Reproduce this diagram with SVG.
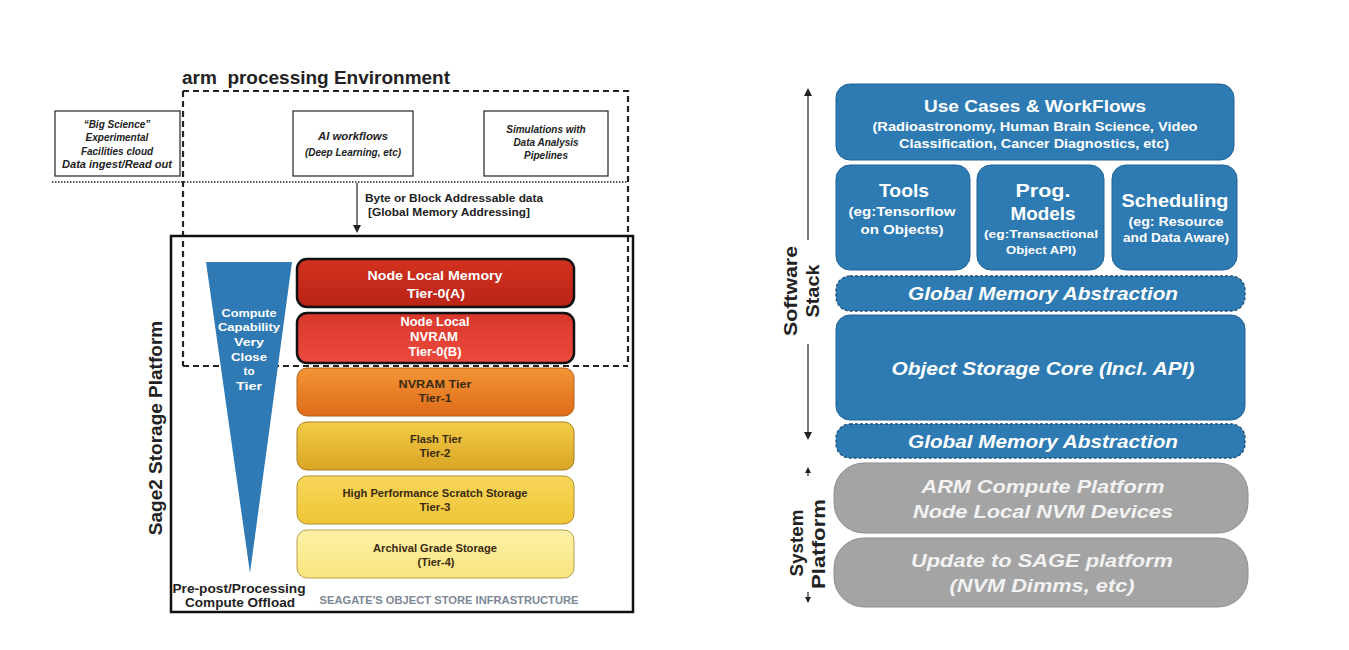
<svg xmlns="http://www.w3.org/2000/svg" width="1349" height="650" viewBox="0 0 1349 650">
<defs>
<style>
text{font-family:"Liberation Sans",Arial,sans-serif;font-weight:bold}
.sm{font-size:10px;fill:#222;font-style:italic;text-anchor:middle}
.lbl{font-size:11px;fill:#222}
.tw{fill:#fff;text-anchor:middle}
.td{fill:#3a2a12;text-anchor:middle;font-size:10.5px}
.blue{fill:#2e7bb3;stroke:#1f6296;stroke-width:1}
.dash{fill:#2e7bb3;stroke:#1d4f78;stroke-width:1.3;stroke-dasharray:3 2}
.gray{fill:#a4a4a4;stroke:#8f8f8f;stroke-width:1}
.gt{fill:#f2f2f2;text-anchor:middle;font-style:italic;font-size:19px}
.wi{fill:#fff;text-anchor:middle;font-style:italic}
</style>
<linearGradient id="g0a" x1="0" y1="0" x2="0" y2="1"><stop offset="0" stop-color="#d3321f"/><stop offset="1" stop-color="#b92316"/></linearGradient>
<linearGradient id="g0b" x1="0" y1="0" x2="0" y2="1"><stop offset="0" stop-color="#d8372b"/><stop offset="1" stop-color="#ec4a3c"/></linearGradient>
<linearGradient id="g1" x1="0" y1="0" x2="0" y2="1"><stop offset="0" stop-color="#f19536"/><stop offset="1" stop-color="#e06c1a"/></linearGradient>
<linearGradient id="g2" x1="0" y1="0" x2="0" y2="1"><stop offset="0" stop-color="#f3cd48"/><stop offset="1" stop-color="#d9a424"/></linearGradient>
<linearGradient id="g3" x1="0" y1="0" x2="0" y2="1"><stop offset="0" stop-color="#f7d75a"/><stop offset="1" stop-color="#efc435"/></linearGradient>
<linearGradient id="g4" x1="0" y1="0" x2="0" y2="1"><stop offset="0" stop-color="#fdf1a8"/><stop offset="1" stop-color="#f8e47c"/></linearGradient>
<marker id="ah" markerWidth="8" markerHeight="8" refX="4" refY="4" orient="auto" markerUnits="userSpaceOnUse"><path d="M0,0 L8,4 L0,8 z" fill="#222"/></marker>
<marker id="ahs" markerWidth="6" markerHeight="6" refX="3" refY="3" orient="auto" markerUnits="userSpaceOnUse"><path d="M0,0 L6,3 L0,6 z" fill="#222"/></marker>
</defs>
<rect width="1349" height="650" fill="#fff"/>

<!-- LEFT DIAGRAM -->
<g id="arm-env">
<text x="182" y="84" font-size="18" fill="#222" textLength="268" lengthAdjust="spacingAndGlyphs" style="white-space:pre">arm  processing Environment</text>
<path d="M183,91 H628 V366 M183,91 V366" fill="none" stroke="#222" stroke-width="2.2" stroke-dasharray="6 4"/>
<line x1="183" y1="366" x2="628" y2="366" stroke="#222" stroke-width="2.2" stroke-dasharray="6 4"/>
<line x1="52" y1="182" x2="628" y2="182" stroke="#222" stroke-width="1.5" stroke-dasharray="1.5 1.5"/>
</g>
<g id="big-science">
<rect x="55" y="111" width="125" height="65" fill="#fff" stroke="#333" stroke-width="1.3"/>
<text class="sm" x="117" y="128">“Big Science”</text>
<text class="sm" x="117" y="141">Experimental</text>
<text class="sm" x="117" y="155">Facilities cloud</text>
<text class="sm" x="117" y="168" textLength="110" lengthAdjust="spacingAndGlyphs">Data ingest/Read out</text>
</g>
<g id="ai-workflows">
<rect x="293" y="111" width="120" height="65" fill="#fff" stroke="#333" stroke-width="1.3"/>
<text class="sm" x="353" y="140" textLength="70" lengthAdjust="spacingAndGlyphs">AI workflows</text>
<text class="sm" x="353" y="156">(Deep Learning, etc)</text>
</g>
<g id="simulations">
<rect x="484" y="111" width="124" height="65" fill="#fff" stroke="#333" stroke-width="1.3"/>
<text class="sm" x="546" y="133">Simulations with</text>
<text class="sm" x="546" y="146">Data Analysis</text>
<text class="sm" x="546" y="159">Pipelines</text>
</g>
<g id="connectors-left">
<line x1="357" y1="183" x2="357" y2="229" stroke="#222" stroke-width="1.2" marker-end="url(#ah)"/>
<text class="lbl" x="365" y="202" textLength="178" lengthAdjust="spacingAndGlyphs">Byte or Block Addressable data</text>
<text class="lbl" x="368" y="216" textLength="162" lengthAdjust="spacingAndGlyphs">[Global Memory Addressing]</text>
</g>
<g id="sage2-platform">
<rect x="171" y="236" width="462" height="376" fill="none" stroke="#111" stroke-width="2.5"/>
<text transform="translate(162,428) rotate(-90)" text-anchor="middle" font-size="19" fill="#222">Sage2 Storage Platform</text>
<text x="239" y="593" text-anchor="middle" font-size="12" fill="#222" textLength="133" lengthAdjust="spacingAndGlyphs">Pre-post/Processing</text>
<text x="240" y="607" text-anchor="middle" font-size="12" fill="#222" textLength="110" lengthAdjust="spacingAndGlyphs">Compute Offload</text>
<text x="449" y="604" text-anchor="middle" font-size="10.5" fill="#7d8794" textLength="259" lengthAdjust="spacingAndGlyphs">SEAGATE'S OBJECT STORE INFRASTRUCTURE</text>
</g>
<g id="compute-triangle">
<polygon points="206,262 292,262 250,573" fill="#2f7ab4"/>
<text class="tw" font-size="11.5" x="249" y="317" textLength="55" lengthAdjust="spacingAndGlyphs">Compute</text>
<text class="tw" font-size="11.5" x="249" y="331" textLength="62" lengthAdjust="spacingAndGlyphs">Capability</text>
<text class="tw" font-size="11.5" x="249" y="346" textLength="30" lengthAdjust="spacingAndGlyphs">Very</text>
<text class="tw" font-size="11.5" x="249" y="361" textLength="36" lengthAdjust="spacingAndGlyphs">Close</text>
<text class="tw" font-size="11.5" x="249" y="375">to</text>
<text class="tw" font-size="11.5" x="249" y="390" textLength="26" lengthAdjust="spacingAndGlyphs">Tier</text>
</g>
<g id="tier-0a">
<rect x="297" y="259" width="277" height="48" rx="10" fill="url(#g0a)" stroke="#111" stroke-width="2.5"/>
<text class="tw" font-size="13" x="435" y="280" textLength="135" lengthAdjust="spacingAndGlyphs">Node Local Memory</text>
<text class="tw" font-size="13" x="436" y="298" textLength="58" lengthAdjust="spacingAndGlyphs">Tier-0(A)</text>
</g>
<g id="tier-0b">
<rect x="297" y="313" width="277" height="50" rx="10" fill="url(#g0b)" stroke="#111" stroke-width="2.5"/>
<text class="tw" font-size="12" x="435" y="326" textLength="69" lengthAdjust="spacingAndGlyphs">Node Local</text>
<text class="tw" font-size="12" x="434" y="341" textLength="48" lengthAdjust="spacingAndGlyphs">NVRAM</text>
<text class="tw" font-size="12" x="435" y="356" textLength="53" lengthAdjust="spacingAndGlyphs">Tier-0(B)</text>
</g>
<g id="tier-1">
<rect x="297" y="368" width="277" height="48" rx="10" fill="url(#g1)" stroke="#b0601a" stroke-width="1"/>
<text class="td" x="435" y="388" textLength="73" lengthAdjust="spacingAndGlyphs">NVRAM Tier</text>
<text class="td" x="435" y="402" textLength="33" lengthAdjust="spacingAndGlyphs">Tier-1</text>
</g>
<g id="tier-2">
<rect x="297" y="422" width="277" height="48" rx="10" fill="url(#g2)" stroke="#a8801e" stroke-width="1"/>
<text class="td" x="436" y="443" textLength="52" lengthAdjust="spacingAndGlyphs">Flash Tier</text>
<text class="td" x="435" y="457" textLength="31" lengthAdjust="spacingAndGlyphs">Tier-2</text>
</g>
<g id="tier-3">
<rect x="297" y="476" width="277" height="48" rx="10" fill="url(#g3)" stroke="#b09030" stroke-width="1"/>
<text class="td" x="435" y="497" textLength="185" lengthAdjust="spacingAndGlyphs">High Performance Scratch Storage</text>
<text class="td" x="435" y="511" textLength="31" lengthAdjust="spacingAndGlyphs">Tier-3</text>
</g>
<g id="tier-4">
<rect x="297" y="530" width="277" height="48" rx="10" fill="url(#g4)" stroke="#b8a050" stroke-width="1"/>
<text class="td" x="435" y="552" textLength="124" lengthAdjust="spacingAndGlyphs">Archival Grade Storage</text>
<text class="td" x="436" y="566" textLength="37" lengthAdjust="spacingAndGlyphs">(Tier-4)</text>
</g>

<!-- RIGHT DIAGRAM -->
<g id="connectors-right">
<line x1="808" y1="240" x2="808" y2="92" stroke="#222" stroke-width="1.2" marker-end="url(#ah)"/>
<line x1="808" y1="344" x2="808" y2="436" stroke="#222" stroke-width="1.2" marker-end="url(#ah)"/>
<line x1="808" y1="476" x2="808" y2="470" stroke="#222" stroke-width="1.2" marker-end="url(#ahs)"/>
<line x1="808" y1="592" x2="808" y2="600" stroke="#222" stroke-width="1.2" marker-end="url(#ahs)"/>
</g>
<g id="software-stack-label">
<text transform="translate(797,291) rotate(-90)" text-anchor="middle" font-size="19" fill="#222" textLength="90" lengthAdjust="spacingAndGlyphs">Software</text>
<text transform="translate(819,291) rotate(-90)" text-anchor="middle" font-size="19" fill="#222" textLength="53" lengthAdjust="spacingAndGlyphs">Stack</text>
</g>
<g id="system-platform-label">
<text transform="translate(803,543) rotate(-90)" text-anchor="middle" font-size="19" fill="#222" textLength="67" lengthAdjust="spacingAndGlyphs">System</text>
<text transform="translate(825,544) rotate(-90)" text-anchor="middle" font-size="19" fill="#222" textLength="90" lengthAdjust="spacingAndGlyphs">Platform</text>
</g>
<g id="use-cases">
<rect class="blue" x="836" y="84" width="398" height="76" rx="14"/>
<text class="tw" font-size="17" x="1035" y="112" textLength="222" lengthAdjust="spacingAndGlyphs">Use Cases &amp; WorkFlows</text>
<text class="tw" font-size="12.5" x="1035" y="131" textLength="325" lengthAdjust="spacingAndGlyphs">(Radioastronomy, Human Brain Science, Video</text>
<text class="tw" font-size="12.5" x="1034" y="148" textLength="270" lengthAdjust="spacingAndGlyphs">Classification, Cancer Diagnostics, etc)</text>
</g>
<g id="tools">
<rect class="blue" x="836" y="165" width="134" height="105" rx="14"/>
<text class="tw" font-size="18" x="904" y="197" textLength="50" lengthAdjust="spacingAndGlyphs">Tools</text>
<text class="tw" font-size="12.5" x="902" y="216" textLength="107" lengthAdjust="spacingAndGlyphs">(eg:Tensorflow</text>
<text class="tw" font-size="12.5" x="902" y="234" textLength="83" lengthAdjust="spacingAndGlyphs">on Objects)</text>
</g>
<g id="prog-models">
<rect class="blue" x="977" y="165" width="127" height="105" rx="14"/>
<text class="tw" font-size="18" x="1043" y="197" textLength="55" lengthAdjust="spacingAndGlyphs">Prog.</text>
<text class="tw" font-size="18" x="1043" y="220" textLength="65" lengthAdjust="spacingAndGlyphs">Models</text>
<text class="tw" font-size="11" x="1041" y="238" textLength="114" lengthAdjust="spacingAndGlyphs">(eg:Transactional</text>
<text class="tw" font-size="11" x="1041" y="254" textLength="70" lengthAdjust="spacingAndGlyphs">Object API)</text>
</g>
<g id="scheduling">
<rect class="blue" x="1112" y="165" width="125" height="105" rx="14"/>
<text class="tw" font-size="18" x="1175" y="207" textLength="107" lengthAdjust="spacingAndGlyphs">Scheduling</text>
<text class="tw" font-size="12.5" x="1176" y="226" textLength="95" lengthAdjust="spacingAndGlyphs">(eg: Resource</text>
<text class="tw" font-size="12.5" x="1176" y="242" textLength="106" lengthAdjust="spacingAndGlyphs">and Data Aware)</text>
</g>
<g id="gma-top">
<rect class="dash" x="836" y="276" width="409" height="35" rx="14"/>
<text class="wi" font-size="18" x="1043" y="300" textLength="270" lengthAdjust="spacingAndGlyphs">Global Memory Abstraction</text>
</g>
<g id="object-storage-core">
<rect class="blue" x="836" y="315" width="409" height="105" rx="14"/>
<text class="wi" font-size="19" x="1043" y="375" textLength="303" lengthAdjust="spacingAndGlyphs">Object Storage Core (Incl. API)</text>
</g>
<g id="gma-bottom">
<rect class="dash" x="836" y="424" width="409" height="34" rx="14"/>
<text class="wi" font-size="18" x="1043" y="448" textLength="270" lengthAdjust="spacingAndGlyphs">Global Memory Abstraction</text>
</g>
<g id="arm-compute">
<rect class="gray" x="834" y="463" width="414" height="70" rx="30"/>
<text class="gt" x="1043" y="493" textLength="243" lengthAdjust="spacingAndGlyphs">ARM Compute Platform</text>
<text class="gt" x="1043" y="518" textLength="260" lengthAdjust="spacingAndGlyphs">Node Local NVM Devices</text>
</g>
<g id="sage-update">
<rect class="gray" x="834" y="538" width="414" height="69" rx="30"/>
<text class="gt" x="1042" y="567" textLength="262" lengthAdjust="spacingAndGlyphs">Update to SAGE platform</text>
<text class="gt" x="1042" y="592" textLength="185" lengthAdjust="spacingAndGlyphs">(NVM Dimms, etc)</text>
</g>
</svg>
